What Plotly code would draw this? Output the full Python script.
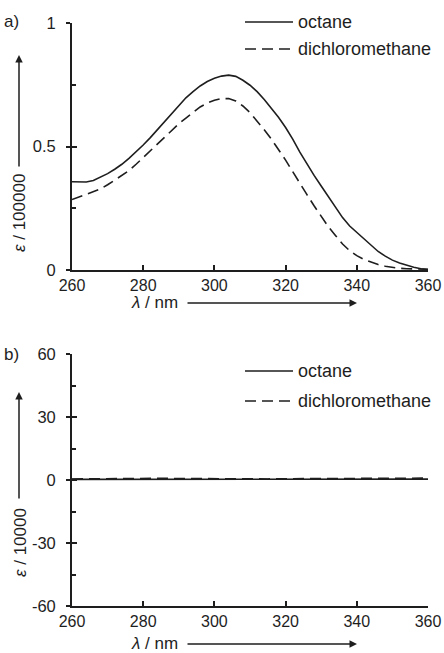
import plotly.graph_objects as go

W, H = 444, 653

# ---------------- data ----------------
wl_a = [260, 262, 264, 266, 268, 270, 272, 274, 276, 278, 280, 282, 284, 286, 288,
        290, 292, 294, 296, 298, 300, 302, 304, 306, 308, 310, 312, 314, 316, 318,
        320, 322, 324, 326, 328, 330, 332, 334, 336, 338, 340, 342, 344, 346, 348,
        350, 352, 354, 356, 358, 360]
octane_a = [0.357, 0.356, 0.356, 0.362, 0.375, 0.390, 0.408, 0.428, 0.452, 0.478, 0.506,
            0.536, 0.568, 0.602, 0.636, 0.668, 0.697, 0.722, 0.745, 0.763, 0.776, 0.785,
            0.789, 0.784, 0.768, 0.748, 0.722, 0.690, 0.655, 0.618, 0.577, 0.530, 0.477,
            0.428, 0.383, 0.340, 0.297, 0.254, 0.212, 0.178, 0.152, 0.125, 0.098, 0.075,
            0.056, 0.040, 0.028, 0.018, 0.011, 0.005, 0.002]
dcm_a = [0.285, 0.296, 0.306, 0.316, 0.328, 0.345, 0.363, 0.382, 0.402, 0.428, 0.455,
         0.483, 0.512, 0.540, 0.565, 0.592, 0.615, 0.638, 0.660, 0.676, 0.687, 0.694,
         0.694, 0.684, 0.664, 0.637, 0.604, 0.568, 0.530, 0.490, 0.445, 0.398, 0.350,
         0.305, 0.260, 0.215, 0.175, 0.140, 0.105, 0.078, 0.058, 0.043, 0.031, 0.022,
         0.015, 0.010, 0.007, 0.005, 0.004, 0.003, 0.003]

wl_b = [260, 265, 270, 275, 280, 285, 290, 295, 300, 305, 310, 315, 320, 325, 330,
        335, 340, 345, 350, 355, 360]
octane_b = [0.3, 0.3, 0.4, 0.5, 0.5, 0.5, 0.4, 0.4, 0.4, 0.3, 0.3, 0.3, 0.2, 0.2, 0.2,
            0.2, 0.2, 0.2, 0.3, 0.3, 0.4]
dcm_b = [0.5, 0.6, 0.7, 0.8, 0.9, 0.8, 0.7, 0.6, 0.6, 0.5, 0.5, 0.5, 0.6, 0.6, 0.7,
         0.7, 0.8, 0.8, 0.8, 0.9, 0.9]

series_names = ["octane", "dichloromethane"]
xticks = [260, 280, 300, 320, 340, 360]
yticks_a = [0, 0.5, 1]
yticks_b = [-60, -30, 0, 30, 60]

# ---------------- style ----------------
INK = "#1e1e1e"
FONT = "Liberation Sans, Arial, sans-serif"
DASH = "11px,6px"


def px(x):
    return x / W


def py(y):
    return 1 - y / H


xdom = [px(72), px(428)]
ydom_a = [py(270), py(23)]
ydom_b = [py(606), py(354)]

fig = go.Figure()

for xs, ys, ya, dash in [
    (wl_a, octane_a, "y", "solid"), (wl_a, dcm_a, "y", DASH),
    (wl_b, octane_b, "y2", "solid"), (wl_b, dcm_b, "y2", DASH),
]:
    fig.add_trace(go.Scatter(
        x=xs, y=ys, xaxis="x" if ya == "y" else "x2", yaxis=ya, mode="lines",
        line=dict(color=INK, width=1.6, dash=dash),
        showlegend=False, hoverinfo="skip"))

# invisible traces for overlay tick axes
fig.add_trace(go.Scatter(x=[None], y=[None], xaxis="x", yaxis="y3", showlegend=False))
fig.add_trace(go.Scatter(x=[None], y=[None], xaxis="x2", yaxis="y4", showlegend=False))

xcommon = dict(range=[260, 360], domain=xdom, showline=True, linecolor=INK, linewidth=1.8,
               ticks="inside", ticklen=5, tickwidth=1.6, tickcolor=INK, tickvals=xticks,
               showgrid=False, zeroline=False, ticklabelstandoff=0, automargin=False,
               tickfont=dict(family=FONT, size=16, color=INK))
ycommon = dict(showline=True, linecolor=INK, linewidth=1.8, ticks="outside", ticklen=4,
               tickwidth=1.6, tickcolor=INK, showgrid=False, zeroline=False,
               ticklabelstandoff=7, automargin=False,
               tickfont=dict(family=FONT, size=16.5, color=INK))
ov = dict(ticks="inside", ticklen=5, tickwidth=1.6, tickcolor=INK, showline=False,
          showticklabels=False, showgrid=False, zeroline=False, automargin=False)

fig.update_layout(
    width=W, height=H, margin=dict(l=0, r=0, t=0, b=0, autoexpand=False),
    paper_bgcolor="white", plot_bgcolor="white", showlegend=False,
    xaxis=dict(**xcommon, anchor="y"),
    xaxis2=dict(**xcommon, anchor="y2"),
    yaxis=dict(**ycommon, range=[0, 1], domain=ydom_a, anchor="x", tickvals=yticks_a,
               ticktext=["0", "0.5", "1"]),
    yaxis2=dict(**ycommon, range=[-60, 60], domain=ydom_b, anchor="x2", tickvals=yticks_b,
                ticktext=["-60", "-30", "0", "30", "60"]),
    yaxis3=dict(**ov, range=[0, 1], overlaying="y", anchor="x", tickvals=yticks_a,
                minor=dict(ticks="inside", ticklen=4, tickwidth=1.6, tickcolor=INK,
                           tickvals=[0.25, 0.75])),
    yaxis4=dict(**ov, range=[-60, 60], overlaying="y2", anchor="x2", tickvals=yticks_b,
                minor=dict(ticks="inside", ticklen=4, tickwidth=1.6, tickcolor=INK,
                           tickvals=[-45, -15, 15, 45])),
)

shapes = []
annotations = []


def legend(y_solid, y_dash):
    for yy, dash, name in [(y_solid, "solid", series_names[0]), (y_dash, DASH, series_names[1])]:
        shapes.append(dict(type="line", xref="paper", yref="paper", x0=px(245), x1=px(293),
                           y0=py(yy), y1=py(yy), line=dict(color=INK, width=1.6, dash=dash)))
        annotations.append(dict(xref="paper", yref="paper", x=px(296), y=py(yy), text=name,
                                showarrow=False, xanchor="left", yanchor="middle",
                                font=dict(family=FONT, size=18, color=INK)))


legend(22, 49)
legend(371, 401)

for lab, yy in [("a)", 22), ("b)", 354)]:
    annotations.append(dict(xref="paper", yref="paper", x=px(2), y=py(yy), text=lab,
                            showarrow=False, xanchor="left", yanchor="middle",
                            font=dict(family=FONT, size=17, color=INK)))

# x axis titles with arrows
for yy in [302, 643]:
    annotations.append(dict(xref="paper", yref="paper", x=px(180), y=py(yy),
                            text="<i>λ</i> / nm", showarrow=False, xanchor="right",
                            yanchor="middle", font=dict(family=FONT, size=17, color=INK)))
    annotations.append(dict(xref="paper", yref="paper", x=px(357), y=py(yy + 1), text="",
                            showarrow=True, ax=-171, ay=0, arrowhead=2, arrowsize=1,
                            arrowwidth=1.5, arrowcolor=INK))

# y axis titles with arrows
for cy, txt, tip, tail in [(213, "<i>ε</i> / 100000", 55, 168), (543, "<i>ε</i> / 10000", 392, 500)]:
    annotations.append(dict(xref="paper", yref="paper", x=px(20), y=py(cy), text=txt,
                            textangle=-90, showarrow=False, xanchor="center",
                            yanchor="middle", font=dict(family=FONT, size=17, color=INK)))
    annotations.append(dict(xref="paper", yref="paper", x=px(19), y=py(tip), text="",
                            showarrow=True, ax=0, ay=tail - tip, arrowhead=2, arrowsize=1,
                            arrowwidth=1.5, arrowcolor=INK))

fig.update_layout(shapes=shapes, annotations=annotations)
fig.write_html("out.html")
